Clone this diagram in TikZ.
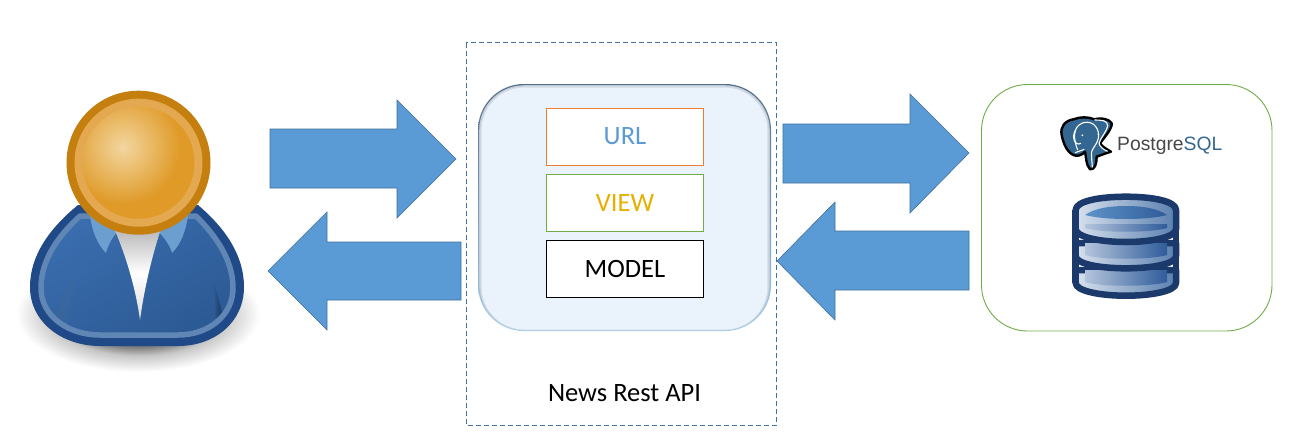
\documentclass[tikz,border=0pt]{standalone}
\usepackage{fontspec}
\setmainfont{Carlito}
\newfontfamily\logofont{Liberation Sans}
\usetikzlibrary{shadings}
\definecolor{arrowblue}{HTML}{5B9BD5}
\definecolor{arrowedge}{HTML}{41719C}
\definecolor{dashblue}{HTML}{41719C}
\definecolor{panelfill}{HTML}{EAF2FB}
\definecolor{paneltop}{HTML}{566C84}
\definecolor{panelbottom}{HTML}{9CCDF2}
\definecolor{orangeedge}{HTML}{ED7D31}
\definecolor{greenedge}{HTML}{70AD47}
\definecolor{viewgold}{HTML}{E5B000}
\definecolor{headring}{HTML}{C47F0F}
\definecolor{headlight}{HTML}{E3A850}
\definecolor{headmain}{HTML}{DF9A27}
\definecolor{headglow}{HTML}{F3D6A0}
\definecolor{bodyedge}{HTML}{204A87}
\definecolor{bodyring}{HTML}{5F86B4}
\definecolor{bodymain}{HTML}{3A6DAE}
\definecolor{bodydark}{HTML}{2C5A94}
\definecolor{collar}{HTML}{6C9FD0}
\definecolor{dbedge}{HTML}{1B3A6B}
\definecolor{dblight}{HTML}{D8E1EE}
\definecolor{dbrim}{HTML}{5A80B0}
\definecolor{dbinl}{HTML}{B4C4DC}
\definecolor{dbinr}{HTML}{2F5C9A}
\definecolor{lensl}{HTML}{5F93C8}
\definecolor{pgblue}{HTML}{336791}
\pgfdeclareradialshading{figshadow}{\pgfpoint{0bp}{0bp}}{color(0bp)=(black!60); color(13bp)=(black!60); color(18bp)=(black!22); color(25bp)=(white); color(50bp)=(white)}
\pgfdeclareradialshading{headball}{\pgfpoint{0bp}{0bp}}{color(0bp)=(headglow); color(18bp)=(headmain); color(50bp)=(headmain)}
\tikzset{
  x=1pt,y=-1pt,
  blockarrow/.style={fill=arrowblue,draw=arrowedge,line width=.6pt,line join=miter},
  layerbox/.style={draw,fill=white,minimum width=157.5pt,minimum height=57pt,inner sep=0pt,line width=.8pt,font=\fontsize{26.5}{26.5}\selectfont},
  dbsection/.style={left color=dblight,right color=dbrim,draw=dbedge,line width=6.5pt,line join=round},
  dbinner/.style={left color=dbinl,right color=dbinr,draw=none},
}
\begin{document}
\begin{tikzpicture}
\useasboundingbox (0,0) rectangle (1306,442);
\fill[white] (0,0) rectangle (1306,442);

% ---- user figure ----
\shade[shading=figshadow] (138,314) ellipse [x radius=122,y radius=58];
\def\bodyshape{(78,205) .. controls (50,228) and (30,255) .. (30,287) .. controls (30,322) and (62,346) .. (100,346) -- (178,346) .. controls (215,346) and (244,322) .. (244,287) .. controls (244,255) and (225,228) .. (198,205) -- cycle}
\def\bodyinner{(80,216) .. controls (58,236) and (41,260) .. (41,288) .. controls (41,316) and (68,335) .. (100,335) -- (178,335) .. controls (208,335) and (233,316) .. (233,288) .. controls (233,260) and (216,236) .. (196,216) -- cycle}
\fill[bodyedge] \bodyshape;
\shade[top color=bodymain,bottom color=bodydark,shading angle=30] \bodyinner;
\begin{scope}
\clip \bodyinner;
\shade[left color=bodydark,right color=black!55!bodydark,opacity=.75] (213,283) .. controls (220,300) and (224,318) .. (224,335) -- (214,335) .. controls (216,315) and (216,300) .. (213,283) -- cycle;
\shade[left color=black!25!bodyring,right color=bodymain,opacity=.35] (80,268) .. controls (66,285) and (55,305) .. (52,335) -- (66,335) .. controls (66,315) and (72,290) .. (80,268) -- cycle;
\end{scope}
\draw[bodyring,line width=5.5pt,line join=round] \bodyinner;
\fill[collar] (90,215) .. controls (92,232) and (98,245) .. (106,253) .. controls (108,245) and (112,238) .. (117,232) -- (110,210) -- cycle;
\fill[collar] (188,215) .. controls (186,232) and (180,245) .. (172,253) .. controls (170,245) and (164,238) .. (159,232) -- (168,210) -- cycle;
\shade[top color=black!30,bottom color=black!14,middle color=white] (113,226) -- (162,226) .. controls (152,255) and (144,290) .. (140,320) .. controls (136,290) and (126,255) .. (113,226) -- cycle;
\fill[headring] (138.5,162.7) circle [radius=72];
\fill[headlight] (138.5,162.7) circle [radius=64];
\begin{scope}
\clip (138.5,162.7) circle [radius=56];
\shade[shading=headball] (123,147) circle [radius=80];
\end{scope}

% ---- block arrows ----
\draw[blockarrow] (270,129) -- (397,129) -- (397,100) -- (456,159) -- (397,218) -- (397,188) -- (270,188) -- cycle;
\draw[blockarrow] (461,242) -- (327,242) -- (327,212) -- (268,271) -- (327,330) -- (327,300) -- (461,300) -- cycle;
\draw[blockarrow] (783,124) -- (910,124) -- (910,94) -- (969,153) -- (910,213) -- (910,183) -- (783,183) -- cycle;
\draw[blockarrow] (969,231) -- (835,231) -- (835,202) -- (777,261) -- (835,320) -- (835,290) -- (969,290) -- cycle;

% ---- API panel ----
\draw[dashblue,line width=.8pt,dash pattern=on 5pt off 3pt] (466,42.5) rectangle (776.5,425);
\shade[top color=paneltop,bottom color=panelbottom,rounded corners=46pt] (478,84) rectangle (771,331);
\fill[panelfill!55!paneltop!70!white,rounded corners=45pt] (479.2,85.2) rectangle (769.8,330.4);
\fill[panelfill!80!paneltop!85!white,rounded corners=44pt] (480.4,86.4) rectangle (768.6,330);
\fill[panelfill,rounded corners=43pt] (481.6,87.6) rectangle (767.4,329.6);
\node[layerbox,draw=orangeedge,text=arrowblue] (url) at (625,136.5) {\raisebox{-1.5pt}{URL}};
\node[layerbox,draw=greenedge,text=viewgold] (view) at (625,202.5) {\raisebox{-1pt}{VIEW}};
\node[layerbox,draw=black,text=black] (model) at (625,268.5) {\raisebox{-1pt}{MODEL}};
\node[font=\fontsize{26.5}{26.5}\selectfont,text=black] (api) at (624.5,393) {News Rest API};

% ---- database panel ----
\draw[greenedge,line width=.9pt,rounded corners=46pt] (981.5,84.5) rectangle (1272,331);

% elephant logo
\begin{scope}[shift={(1055,110)},x=.33333pt,y=-.33333pt,line join=round]
\draw[black,line width=2.4pt,fill=pgblue] (55,28) .. controls (30,32) and (15,50) .. (20,75) .. controls (25,100) and (35,125) .. (55,135) .. controls (65,140) and (80,137) .. (90,125) .. controls (93,135) and (92,165) .. (105,178) .. controls (120,180) and (125,160) .. (125,140) .. controls (140,135) and (150,130) .. (168,125) .. controls (150,115) and (140,108) .. (135,100) .. controls (150,80) and (172,55) .. (170,40) .. controls (165,28) and (140,22) .. (118,28) .. controls (100,20) and (75,20) .. (55,28) -- cycle;
\draw[white,line width=1.1pt] (68,120) .. controls (56,90) and (50,50) .. (85,38) .. controls (118,30) and (135,60) .. (130,85) .. controls (125,105) and (115,110) .. (110,125) .. controls (108,140) and (112,160) .. (112,172);
\draw[white,line width=1.1pt] (118,30) .. controls (135,30) and (160,30) .. (158,48) .. controls (155,65) and (138,80) .. (132,100) .. controls (134,112) and (148,120) .. (158,124);
\draw[white,line width=1.1pt] (62,60) .. controls (48,80) and (60,110) .. (78,100);
\draw[white,line width=1.1pt] (60,128) -- (88,118);
\fill[white] (82,76) circle [radius=3];
\fill[white] (130,73) circle [radius=3];
\end{scope}
\node[anchor=base west,inner sep=0pt,font=\logofont\fontsize{19.3}{19.3}\selectfont,text=black!72] (pg) at (1117,150) {Postgre\textcolor{pgblue}{SQL}};

% database cylinder
\def\dbL{1075.7}\def\dbR{1176}
\path[dbsection] (\dbL,270) -- (\dbL,283) .. controls (\dbL,291) and (1100,295.7) .. (1126,295.7) .. controls (1152,295.7) and (\dbR,291) .. (\dbR,283) -- (\dbR,270) -- cycle;
\shade[dbinner] (1085,270) -- (1085,282) .. controls (1100,287) and (1150,287) .. (1167,282) -- (1167,270) -- cycle;
\path[dbsection] (\dbL,243) -- (\dbL,256) .. controls (\dbL,264) and (1100,268.3) .. (1126,268.3) .. controls (1152,268.3) and (\dbR,264) .. (\dbR,256) -- (\dbR,243) -- cycle;
\shade[dbinner] (1085,243) -- (1085,255) .. controls (1100,260) and (1150,260) .. (1167,255) -- (1167,243) -- cycle;
\path[dbsection] (\dbL,210) -- (\dbL,229) .. controls (\dbL,237) and (1100,242) .. (1126,242) .. controls (1152,242) and (\dbR,237) .. (\dbR,229) -- (\dbR,210) .. controls (\dbR,201) and (1152,196.7) .. (1126,196.7) .. controls (1100,196.7) and (\dbL,201) .. (\dbL,210) -- cycle;
\draw[dbedge,line width=6.5pt] (\dbL,210) -- (\dbL,283) (\dbR,210) -- (\dbR,283);
\shade[dbinner] (1085,224) -- (1085,228) .. controls (1100,233) and (1150,233) .. (1167,228) -- (1167,224) -- cycle;
\shade[left color=lensl,right color=dbinr,draw=none] (1085,215) .. controls (1095,208) and (1110,206) .. (1126,206) .. controls (1142,206) and (1157,208) .. (1167,215) .. controls (1155,218) and (1140,219) .. (1126,219) .. controls (1112,219) and (1097,218) .. (1085,215) -- cycle;
\end{tikzpicture}
\end{document}
